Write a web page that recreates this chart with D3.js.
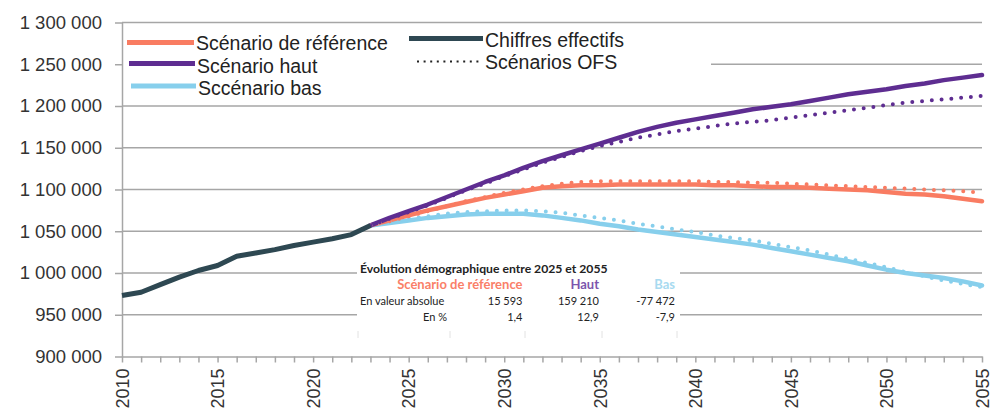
<!DOCTYPE html>
<html>
<head>
<meta charset="utf-8">
<script src="https://cdn.jsdelivr.net/npm/d3@7"></script>
<style>
  body { margin: 0; background: #fff; }
  svg { display: block; }
  svg text { font-family: "Liberation Sans", Arial, sans-serif; }
</style>
</head>
<body>
<script>
const w = 1003;
const h = 412;

// chiffres effectifs 2010-2023
const actualYears = d3.range(2010, 2024);
const actual = [973000, 977000, 986000, 995000, 1003000, 1009000, 1020000, 1024000, 1028000, 1033000, 1037000, 1041000, 1046000, 1057000];

// scénarios 2023-2055
const projYears = d3.range(2023, 2056);
const refSolid = [1057000, 1063000, 1069000, 1075000, 1080000, 1085000, 1090000, 1094000, 1098000, 1102000, 1104000, 1105000, 1105000, 1106000, 1106000, 1106000, 1106000, 1106000, 1105000, 1105000, 1104000, 1103000, 1103000, 1102000, 1101000, 1100000, 1099000, 1097000, 1095000, 1094000, 1092000, 1089000, 1086000];
const refOfs = [1057000, 1062000, 1068000, 1074000, 1080000, 1086000, 1091000, 1096000, 1100000, 1104000, 1107000, 1109000, 1110000, 1110000, 1110000, 1110000, 1110000, 1110000, 1109000, 1109000, 1108000, 1108000, 1107000, 1106000, 1105000, 1104000, 1103000, 1102000, 1101000, 1100000, 1099000, 1098000, 1096000];
const hautSolid = [1057000, 1066000, 1074000, 1082000, 1091000, 1100000, 1109000, 1117000, 1126000, 1134000, 1141000, 1148000, 1155000, 1162000, 1169000, 1175000, 1180000, 1184000, 1188000, 1192000, 1196000, 1199000, 1202000, 1206000, 1210000, 1214000, 1217000, 1220000, 1224000, 1227000, 1231000, 1234000, 1237000];
const hautOfs = [1057000, 1065000, 1073000, 1081000, 1090000, 1099000, 1107000, 1116000, 1124000, 1132000, 1139000, 1146000, 1152000, 1157000, 1162000, 1166000, 1170000, 1173000, 1176000, 1179000, 1181000, 1183000, 1186000, 1189000, 1192000, 1195000, 1198000, 1201000, 1204000, 1206000, 1208000, 1210000, 1212000];
const basSolid = [1057000, 1060000, 1063000, 1066000, 1068000, 1070000, 1071000, 1071000, 1071000, 1069000, 1066000, 1063000, 1059000, 1056000, 1052000, 1049000, 1046000, 1043000, 1040000, 1037000, 1034000, 1030000, 1026000, 1022000, 1018000, 1014000, 1009000, 1004000, 1000000, 997000, 994000, 990000, 985000];
const basOfs = [1057000, 1061000, 1065000, 1068000, 1071000, 1073000, 1074000, 1075000, 1075000, 1074000, 1072000, 1069000, 1066000, 1063000, 1059000, 1056000, 1052000, 1049000, 1045000, 1042000, 1039000, 1035000, 1031000, 1027000, 1022000, 1017000, 1012000, 1007000, 1001000, 996000, 991000, 987000, 983000];

const yTicks = [900000, 950000, 1000000, 1050000, 1100000, 1150000, 1200000, 1250000, 1300000];

// tableau
const tableTitle = 'Évolution démographique entre 2025 et 2055';
const tableHeads = ['Scénario de référence', 'Haut', 'Bas'];
const tableAbs = ['15 593', '159 210', '-77 472'];
const tablePct = ['1,4', '12,9', '-7,9'];

const cRef = '#f97c62';
const cHaut = '#5e2d91';
const cBas = '#87cfec';
const cActual = '#2e4852';
const cGrid = '#a6a6a6';
const font = '"Liberation Sans", Arial, sans-serif';

const x = d3.scaleLinear().domain([2010, 2055]).range([122, 982]);
const y = d3.scaleLinear().domain([900000, 1300000]).range([356.5, 22.5]);

const fmt = d3.formatLocale({decimal: ',', thousands: ' ', grouping: [3], currency: ['', '']}).format(',d');

const svg = d3.select('body')
  .append('svg')
  .attr('width', w)
  .attr('height', h);

// gridlines
svg.selectAll('.grid')
  .data(yTicks.slice(1))
  .enter()
  .append('line')
  .attr('x1', x(2010))
  .attr('x2', x(2055))
  .attr('y1', d => y(d))
  .attr('y2', d => y(d))
  .style('stroke', cGrid)
  .style('stroke-width', 1.5);

// white boxes (legend + table) cover the grid
svg.append('rect').attr('x', 123).attr('y', 24).attr('width', 588).attr('height', 81).style('fill', '#fff');
svg.append('rect').attr('x', 357).attr('y', 258).attr('width', 323).attr('height', 82).style('fill', '#fff');

// axes
const yAxis = d3.axisLeft(y)
  .tickValues(yTicks)
  .tickSize(7)
  .tickSizeOuter(0)
  .tickPadding(13)
  .tickFormat(fmt);

const gy = svg.append('g')
  .attr('transform', `translate(${x(2010)},0)`)
  .call(yAxis);
gy.selectAll('line, path').style('stroke', cGrid).style('stroke-width', 1.5);
gy.selectAll('text')
  .style('font-family', font)
  .style('font-size', '18.5px')
  .style('fill', '#333');

const xAxis = d3.axisBottom(x)
  .tickValues(d3.range(2010, 2056))
  .tickSize(6)
  .tickSizeOuter(0)
  .tickFormat(d => d % 5 === 0 ? d : '');

const gx = svg.append('g')
  .attr('transform', `translate(0,${y(900000)})`)
  .call(xAxis);
gx.selectAll('line, path').style('stroke', cGrid).style('stroke-width', 1.5);
gx.selectAll('text')
  .attr('transform', 'rotate(-90)')
  .attr('x', -12)
  .attr('y', 0)
  .attr('dy', '0.35em')
  .style('text-anchor', 'end')
  .style('font-family', font)
  .style('font-size', '18px')
  .style('fill', '#333');

// lines
const line = d3.line()
  .x(d => x(d[0]))
  .y(d => y(d[1]));

const series = [
  {vals: basSolid, color: cBas, dots: false},
  {vals: refSolid, color: cRef, dots: false},
  {vals: hautSolid, color: cHaut, dots: false},
  {vals: basOfs, color: cBas, dots: true},
  {vals: refOfs, color: cRef, dots: true},
  {vals: hautOfs, color: cHaut, dots: true}
];

series.forEach(s => {
  svg.append('path')
    .datum(d3.zip(projYears, s.vals))
    .attr('d', line)
    .style('fill', 'none')
    .style('stroke', s.color)
    .style('stroke-width', s.dots ? 4 : 4.5)
    .style('stroke-linecap', 'round')
    .style('stroke-linejoin', 'round')
    .style('stroke-dasharray', s.dots ? '0 9.8' : null);
});

svg.append('path')
  .datum(d3.zip(actualYears, actual))
  .attr('d', line)
  .style('fill', 'none')
  .style('stroke', cActual)
  .style('stroke-width', 5)
  .style('stroke-linejoin', 'round');

// legend
const legend = [
  {label: 'Scénario de référence', color: cRef, x1: 127, x2: 194, ly: 42.5, ty: 49.5, dash: null, sw: 5},
  {label: 'Scénario haut', color: cHaut, x1: 129, x2: 195, ly: 63.5, ty: 72.5, dash: null, sw: 5},
  {label: 'Sccénario bas', color: cBas, x1: 131, x2: 196, ly: 86, ty: 94.5, dash: null, sw: 5},
  {label: 'Chiffres effectifs', color: cActual, x1: 409, x2: 483, ly: 38.5, ty: 46.5, dash: null, sw: 5},
  {label: 'Scénarios OFS', color: '#222', x1: 417, x2: 483, ly: 61.5, ty: 68.5, dash: '2 4.6', sw: 2.2}
];

legend.forEach(l => {
  svg.append('line')
    .attr('x1', l.x1).attr('x2', l.x2)
    .attr('y1', l.ly).attr('y2', l.ly)
    .style('stroke', l.color)
    .style('stroke-width', l.sw)
    .style('stroke-dasharray', l.dash);
  svg.append('text')
    .attr('x', l.x2 + 2)
    .attr('y', l.ty)
    .style('font-family', font)
    .style('font-size', '19.5px')
    .style('fill', '#222')
    .text(l.label);
});

// tableau
const tfont = 'Lato, "Liberation Sans", sans-serif';
const tbl = svg.append('g');
const colX = [522.5, 599, 675];

tbl.append('text').attr('x', 360).attr('y', 273)
  .style('font-family', tfont).style('font-size', '12.2px')
  .style('font-weight', 'bold').style('fill', '#222').text(tableTitle);
tbl.selectAll('.head')
  .data(tableHeads)
  .enter()
  .append('text')
  .attr('x', (d, i) => colX[i])
  .attr('y', 289)
  .style('text-anchor', 'end')
  .style('font-family', tfont)
  .style('font-weight', 'bold')
  .style('font-size', '13px')
  .style('fill', (d, i) => ['#fa8068', '#7c55ad', '#a8daf0'][i])
  .text(d => d);

const rows = [
  {label: 'En valeur absolue', lx: 360, anchor: 'start', ty: 305, vals: tableAbs},
  {label: 'En %', lx: 447, anchor: 'end', ty: 321, vals: tablePct}
];
rows.forEach(r => {
  tbl.append('text').attr('x', r.lx).attr('y', r.ty)
    .style('text-anchor', r.anchor)
    .style('font-family', tfont).style('font-size', '11px')
    .style('fill', '#222').text(r.label);
  tbl.selectAll(null)
    .data(r.vals)
    .enter()
    .append('text')
    .attr('x', (d, i) => colX[i])
    .attr('y', r.ty)
    .style('text-anchor', 'end')
    .style('font-family', tfont).style('font-size', '11px')
    .style('fill', '#222')
    .text(d => d);
});

tbl.selectAll('.stub')
  .data([358, 450, 525, 602, 677])
  .enter()
  .append('line')
  .attr('x1', d => d).attr('x2', d => d)
  .attr('y1', 331).attr('y2', 338)
  .style('stroke', '#e2e2e2')
  .style('stroke-width', 1);
</script>
</body>
</html>
